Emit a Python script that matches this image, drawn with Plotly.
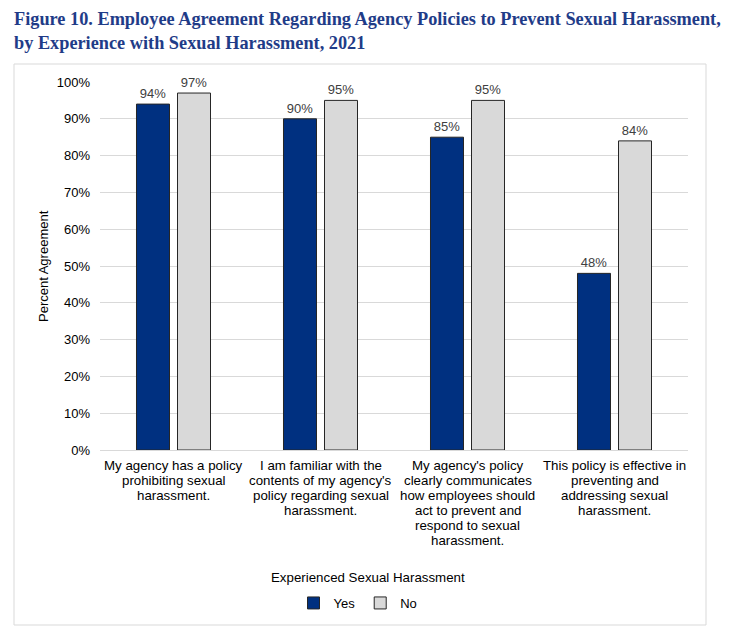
import plotly.graph_objects as go

categories = [
    "My agency has a policy<br>prohibiting sexual<br>harassment.",
    "I am familiar with the<br>contents of my agency's<br>policy regarding sexual<br>harassment.",
    "My agency's policy<br>clearly communicates<br>how employees should<br>act to prevent and<br>respond to sexual<br>harassment.",
    "This policy is effective in<br>preventing and<br>addressing sexual<br>harassment.",
]
yes_values = [94, 90, 85, 48]
no_values = [97, 95, 95, 84]
series_names = ["Yes", "No"]
y_ticks = [0, 10, 20, 30, 40, 50, 60, 70, 80, 90, 100]
y_tick_labels = [f"{v}%" for v in y_ticks]

title_text = ("Figure 10. Employee Agreement Regarding Agency Policies to Prevent Sexual Harassment,"
              "<br>by Experience with Sexual Harassment, 2021")

# page body has an 8px margin, so the canvas is shifted by 8px
OFF = 8
W, H = 734 - OFF, 637 - OFF
L, R, T, B = 100, 688, 82, 450   # plot area in screenshot pixels

FONT = "Liberation Sans, Arial, sans-serif"


def px(x):
    return (x - L) / (R - L)


def py(y):
    return (B - y) / (B - T)


fig = go.Figure()
for name, vals, col in [(series_names[0], yes_values, "#003080"),
                        (series_names[1], no_values, "#D9D9D9")]:
    fig.add_trace(go.Bar(
        x=categories, y=vals, name=name,
        marker=dict(color=col, line=dict(color="#262626", width=1)),
        text=[f"{v}%" for v in vals], textposition="outside",
        constraintext="none", cliponaxis=False,
        textfont=dict(family=FONT, size=13, color="#404040"),
    ))

annotations = [
    dict(text=title_text, xref="paper", yref="paper", x=px(13), y=py(8),
         xanchor="left", yanchor="top", align="left", showarrow=False, borderpad=0,
         font=dict(family="Liberation Serif, Times New Roman, serif", size=18.3,
                   color="#1F3C88", weight="bold")),
    dict(text="Percent Agreement", xref="paper", yref="paper", x=px(43), y=py(266),
         textangle=-90, showarrow=False, font=dict(family=FONT, size=13, color="#000000"),
         xanchor="center", yanchor="middle"),
    dict(text="Experienced Sexual Harassment", xref="paper", yref="paper",
         x=px(368), y=py(577), showarrow=False,
         font=dict(family=FONT, size=13.3, color="#000000"),
         xanchor="center", yanchor="middle"),
]
# category labels, one line per annotation so the line spacing matches
for cat in categories:
    for i, line in enumerate(cat.split("<br>")):
        annotations.append(dict(
            text=line, xref="x", yref="y", x=cat, y=0, yshift=-(15 + 15 * i),
            xanchor="center", yanchor="middle", showarrow=False,
            font=dict(family=FONT, size=13.3, color="#000000"),
        ))

fig.update_layout(
    width=W, height=H,
    margin=dict(l=L - OFF, r=(734 - R), t=T - OFF, b=(637 - B)),
    paper_bgcolor="white", plot_bgcolor="white",
    font=dict(family=FONT, size=13, color="#000000"),
    barmode="group", bargap=0.442, bargroupgap=0.195,
    showlegend=True,
    legend=dict(
        orientation="h", x=px(358), xanchor="center", y=py(603), yanchor="middle",
        font=dict(family=FONT, size=13, color="#000000"), itemwidth=30,
        traceorder="normal",
    ),
    xaxis=dict(
        showline=True, linecolor="#D9D9D9", linewidth=1, ticks="",
        showticklabels=False, showgrid=False,
    ),
    yaxis=dict(
        range=[0, 100], tickmode="array", tickvals=y_ticks, ticktext=y_tick_labels,
        showgrid=True, gridcolor="#D9D9D9", gridwidth=1, zeroline=False, showline=False,
        tickfont=dict(family=FONT, size=13, color="#000000"), ticklabelstandoff=9,
    ),
    shapes=[dict(
        type="rect", xref="paper", yref="paper",
        x0=px(14), x1=px(706), y0=py(625), y1=py(64),
        line=dict(color="#D9D9D9", width=1), fillcolor="rgba(0,0,0,0)", layer="below",
    )],
    annotations=annotations,
)

fig.write_html("out.html")
